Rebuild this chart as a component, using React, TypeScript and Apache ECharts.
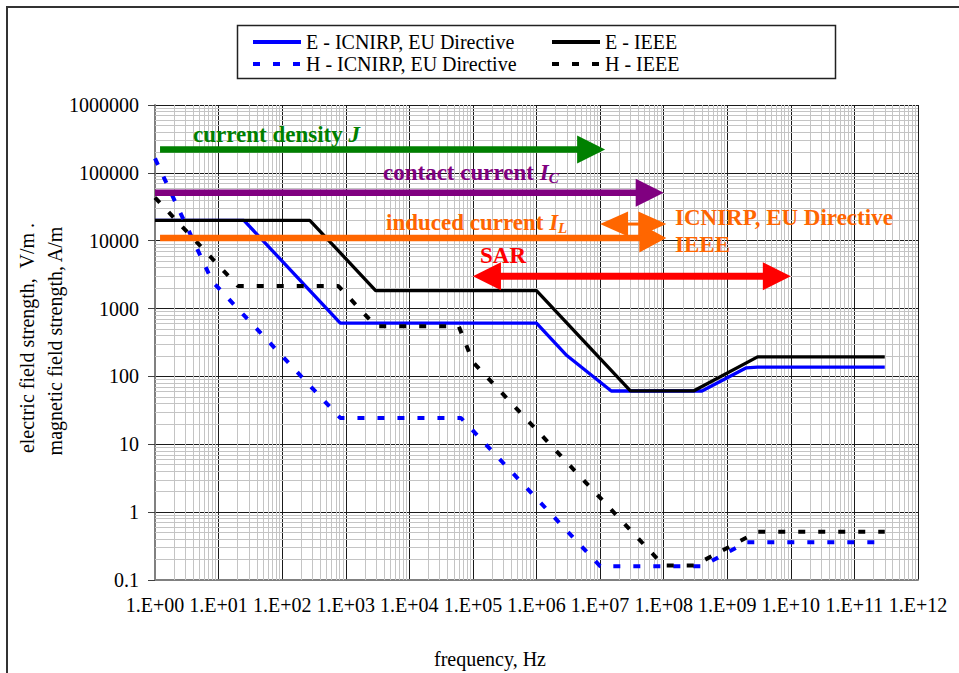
import React, { useEffect, useRef } from 'react';
import * as echarts from 'echarts';

// ---- Data ----
const seriesNames = ['E - ICNIRP, EU Directive', 'E - IEEE', 'H - ICNIRP, EU Directive', 'H - IEEE'];

const eIcnirpFreq = [1, 25, 820, 1e6, 3e6, 1.5e7, 4e8, 2e9, 3e9, 3e11];
const eIcnirpVal = [20000, 20000, 610, 610, 203, 61, 61, 134, 137, 137];

const eIeeeFreq = [1, 272, 2953, 1e6, 3e7, 3e8, 3e9, 3e11];
const eIeeeVal = [20000, 20000, 1842, 1842, 61.4, 61.4, 194, 194];

const hIcnirpFreq = [1, 8, 25, 820, 65000, 1e7, 4e8, 2e9, 3e11];
const hIcnirpVal = [163000, 2500, 800, 24.4, 24.4, 0.16, 0.16, 0.36, 0.36];

const hIeeeFreq = [1, 20, 759, 3000, 60000, 1e5, 1e8, 3e8, 3e9, 3e11];
const hIeeeVal = [43200, 2160, 2160, 547, 547, 163, 0.163, 0.163, 0.515, 0.515];

// annotation arrows: frequency range and level
const arrowStart = [1.2, 1, 1.2, 1e7, 1e5];
const arrowEnd = [1.2e7, 1e8, 1.1e8, 1.1e8, 1e10];
const arrowLevel = [2.2e5, 5.1e4, 1.1e4, 1.76e4, 3000];

// axis decades
const xDecades = [0, 1, 2, 3, 4, 5, 6, 7, 8, 9, 10, 11];
const yDecades = [-1, 0, 1, 2, 3, 4, 5];
const minorSteps = [2, 3, 4, 5, 6, 7, 8, 9];

// ---- Styles ----
const FONT = "'Liberation Serif', 'Times New Roman', Times, serif";
const arrowStyles = [
  { color: '#008000', width: 6.5, left: false, right: true, head: 28, half: 14 },
  { color: '#800080', width: 6.5, left: false, right: true, head: 28, half: 14 },
  { color: '#FF6600', width: 6.5, left: false, right: true, head: 27, half: 14.5 },
  { color: '#FF6600', width: 3, left: true, right: true, head: 28, half: 12.5 },
  { color: '#FF0000', width: 7, left: true, right: true, head: 28, half: 14 },
];

const zip = (a: number[], b: number[]) => a.map((v, i) => [v, b[i]]);

const fmtX = (v: number) => {
  const e = Math.round(Math.log10(v));
  return '1.E+' + (e < 10 ? '0' : '') + e;
};
const fmtY = (v: number) => {
  const e = Math.round(Math.log10(v));
  return e < 0 ? '0.' + '0'.repeat(-e - 1) + '1' : '1' + '0'.repeat(e);
};

const boldRich = (color: string) => ({
  a: { fontSize: 23, fontWeight: 'bold', fontFamily: FONT, fill: color, color, lineHeight: 26 },
  i: { fontSize: 23, fontWeight: 'bold', fontStyle: 'italic', fontFamily: FONT, fill: color, color, lineHeight: 26 },
  s: { fontSize: 15, fontWeight: 'bold', fontStyle: 'italic', fontFamily: FONT, fill: color, color, lineHeight: 11, verticalAlign: 'bottom' },
});

const annText = (x: number, y: number, text: string, color: string) => ({
  type: 'text',
  x,
  y,
  silent: true,
  z: 20,
  style: {
    text,
    rich: boldRich(color),
    fill: color,
    font: `bold 23px ${FONT}`,
    align: 'left',
    textAlign: 'left',
    verticalAlign: 'middle',
    textVerticalAlign: 'middle',
  },
});

const plainText = (x: number, y: number, text: string, rotation = 0) => ({
  type: 'text',
  x,
  y,
  rotation,
  silent: true,
  style: {
    text,
    fill: '#000',
    font: `20px ${FONT}`,
    align: 'center',
    textAlign: 'center',
    verticalAlign: 'middle',
    textVerticalAlign: 'middle',
  },
});

export default function App() {
  const ref = useRef<HTMLDivElement>(null);

  useEffect(() => {
    if (!ref.current) return;
    const chart = echarts.init(ref.current, undefined, { renderer: 'svg' });

    const xMinor: any[] = [];
    xDecades.forEach((e) => minorSteps.forEach((k) => xMinor.push({ xAxis: k * Math.pow(10, e) })));
    const yMinor: any[] = [];
    yDecades.forEach((e) => minorSteps.forEach((k) => yMinor.push({ yAxis: k * Math.pow(10, e) })));

    const lineSeries = (name: string, data: number[][], color: string, dotted: boolean, z: number) => ({
      type: 'line',
      name,
      data,
      z,
      symbol: 'none',
      showSymbol: false,
      silent: true,
      lineStyle: dotted
        ? { color, width: 4, type: [7, 13], cap: 'butt' }
        : { color, width: 3.3, type: 'solid' },
      itemStyle: { color },
    });

    const legendBase = {
      orient: 'vertical',
      top: 32,
      itemWidth: 48,
      itemHeight: 20,
      itemGap: 2,
      padding: 0,
      selectedMode: false,
      itemStyle: { opacity: 0 },
      lineStyle: { width: 4 },
      textStyle: { fontFamily: FONT, fontSize: 20, color: '#000', lineHeight: 20 },
    };

    const option: any = {
      animation: false,
      backgroundColor: '#fff',
      grid: { left: 155, top: 105, width: 763, height: 475, containLabel: false },
      legend: [
        { ...legendBase, left: 251, data: [seriesNames[0], seriesNames[2]] },
        { ...legendBase, left: 550, data: [seriesNames[1], seriesNames[3]] },
      ],
      xAxis: {
        type: 'log',
        logBase: 10,
        min: 1,
        max: 1e12,
        interval: 1,
        axisLine: { show: true, lineStyle: { color: '#808080', width: 2 } },
        axisTick: { show: false },
        axisLabel: { fontFamily: FONT, fontSize: 20, color: '#000', margin: 15, formatter: fmtX },
        splitLine: { show: true, lineStyle: { color: '#1a1a1a', width: 1 } },
      },
      yAxis: {
        type: 'log',
        logBase: 10,
        min: 0.1,
        max: 1e6,
        interval: 1,
        axisLine: { show: true, lineStyle: { color: '#808080', width: 2 } },
        axisTick: { show: true, inside: false, length: 7, lineStyle: { color: '#404040', width: 1 } },
        axisLabel: { fontFamily: FONT, fontSize: 20, color: '#000', margin: 16, formatter: fmtY },
        splitLine: { show: true, lineStyle: { color: '#1a1a1a', width: 1 } },
      },
      series: [
        {
          type: 'line',
          name: 'minor grid',
          data: [],
          z: 1,
          silent: true,
          markLine: {
            z: 1,
            silent: true,
            symbol: ['none', 'none'],
            label: { show: false },
            emphasis: { disabled: true },
            lineStyle: { color: '#c4c4c4', width: 1, type: 'solid' },
            data: [...xMinor, ...yMinor],
          },
        },
        lineSeries(seriesNames[0], zip(eIcnirpFreq, eIcnirpVal), '#0000FF', false, 10),
        lineSeries(seriesNames[1], zip(eIeeeFreq, eIeeeVal), '#000000', false, 11),
        lineSeries(seriesNames[2], zip(hIcnirpFreq, hIcnirpVal), '#0000FF', true, 12),
        lineSeries(seriesNames[3], zip(hIeeeFreq, hIeeeVal), '#000000', true, 13),
        {
          type: 'custom',
          name: 'arrows',
          coordinateSystem: 'cartesian2d',
          z: 20,
          silent: true,
          encode: { x: [0, 1], y: 2 },
          data: arrowStart.map((s, i) => [s, arrowEnd[i], arrowLevel[i], i]),
          renderItem: (params: any, api: any) => {
            const i = api.value(3) as number;
            const st = arrowStyles[i];
            const a = api.coord([api.value(0), api.value(2)]);
            const b = api.coord([api.value(1), api.value(2)]);
            const y = a[1];
            const x1 = a[0];
            const x2 = b[0];
            const s1 = st.left ? x1 + st.head - 1 : x1;
            const s2 = st.right ? x2 - st.head + 1 : x2;
            const children: any[] = [
              { type: 'rect', shape: { x: s1, y: y - st.width / 2, width: s2 - s1, height: st.width }, style: { fill: st.color } },
            ];
            if (st.right) {
              children.push({
                type: 'polygon',
                shape: { points: [[x2 - st.head, y - st.half], [x2, y], [x2 - st.head, y + st.half]] },
                style: { fill: st.color },
              });
            }
            if (st.left) {
              children.push({
                type: 'polygon',
                shape: { points: [[x1 + st.head, y - st.half], [x1, y], [x1 + st.head, y + st.half]] },
                style: { fill: st.color },
              });
            }
            return { type: 'group', children };
          },
        },
      ],
      graphic: [
        {
          type: 'rect',
          silent: true,
          shape: { x: 7, y: 7, width: 1000, height: 1000 },
          style: { fill: 'none', stroke: '#333', lineWidth: 2 },
        },
        {
          type: 'rect',
          silent: true,
          shape: { x: 237.5, y: 25.5, width: 598, height: 53 },
          style: { fill: 'none', stroke: '#222', lineWidth: 1.5 },
        },
        plainText(26.5, 338, 'electric field strength,  V/m .', Math.PI / 2),
        plainText(55, 341, 'magnetic field strength, A/m', Math.PI / 2),
        plainText(490, 659, 'frequency, Hz'),
        annText(193, 134, '{a|current density }{i|J}', '#008000'),
        annText(383, 172, '{a|contact current }{i|I}{s|C}', '#800080'),
        annText(386, 222, '{a|induced current }{i|I}{s|L}', '#FF6600'),
        annText(480, 255, '{a|SAR}', '#FF0000'),
        annText(675, 217, '{a|ICNIRP, EU Directive}', '#FF6600'),
        annText(675, 244, '{a|IEEE}', '#FF6600'),
      ],
    };

    chart.setOption(option);
    return () => chart.dispose();
  }, []);

  return (
    <div
      ref={ref}
      style={{ position: 'absolute', left: 0, top: 0, width: 959, height: 673, background: '#fff' }}
    />
  );
}
